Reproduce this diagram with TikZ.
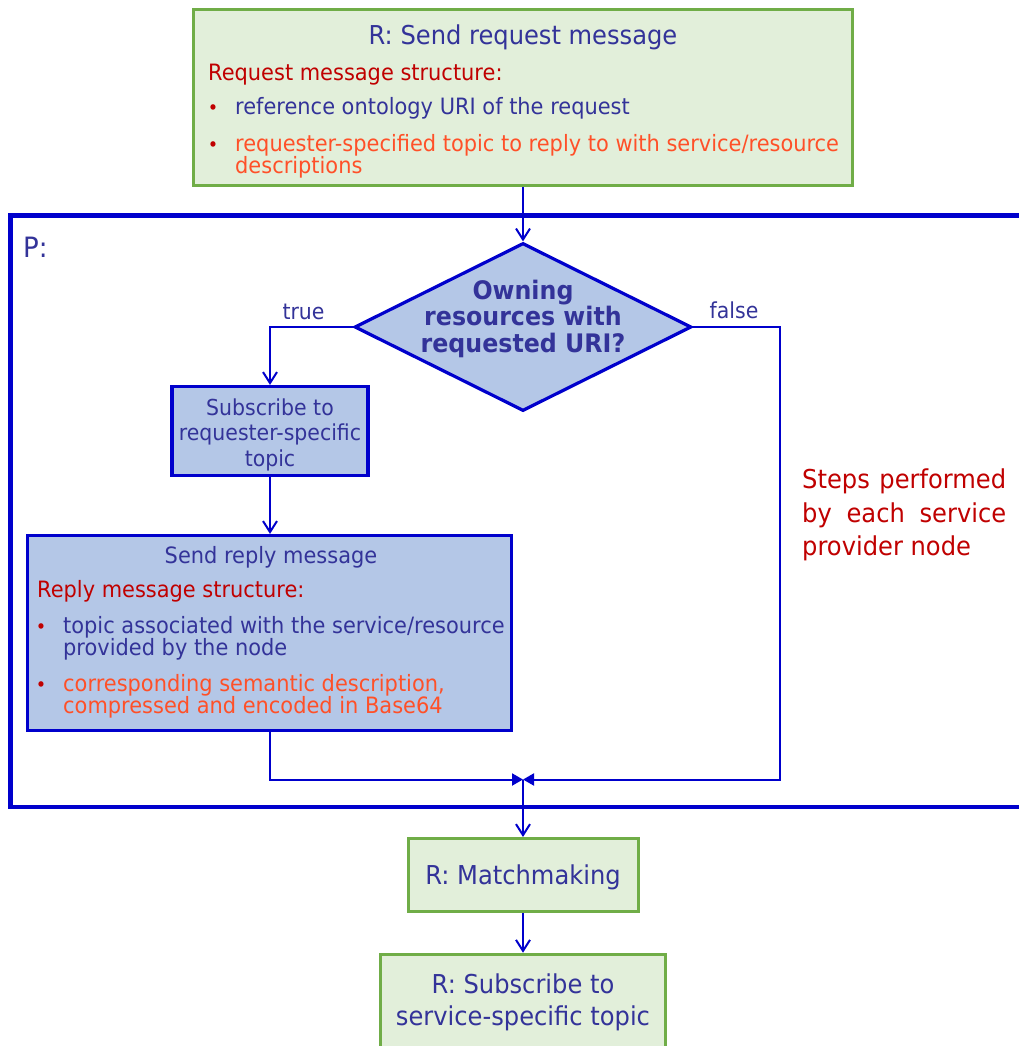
\documentclass[tikz,border=0pt]{standalone}
\usepackage{fontspec}
\setmainfont{DejaVu Sans}[FakeStretch=0.93]
\newfontfamily\boldface{DejaVu Sans Bold}[FakeStretch=0.93]
\usetikzlibrary{shapes.geometric,arrows.meta}

\definecolor{txtblue}{RGB}{51,51,153}
\definecolor{txtred}{RGB}{192,0,0}
\definecolor{txtorange}{RGB}{255,80,40}
\definecolor{lnblue}{RGB}{0,0,204}
\definecolor{grnfill}{RGB}{226,239,218}
\definecolor{grnline}{RGB}{112,173,71}
\definecolor{bluefill}{RGB}{180,199,231}

\tikzset{
  greenbox/.style={draw=grnline, fill=grnfill, line width=3pt, inner sep=0pt},
  bluebox/.style={draw=lnblue, fill=bluefill, line width=3.2pt, inner sep=0pt},
  framebox/.style={draw=lnblue, line width=4.5pt, inner sep=0pt},
  decision/.style={diamond, draw=lnblue, fill=bluefill, line width=3.2pt, inner sep=0pt},
  conn/.style={draw=lnblue, line width=2pt},
  varrow/.style={conn, -{Straight Barb[length=11pt,width=14pt]}},
  harrow/.style={conn, -{Triangle[length=11pt,width=12pt]}},
  txt/.style={inner sep=0pt, anchor=base, text=txtblue},
  big/.style={txt, font=\fontsize{26}{30}\selectfont},
  mid/.style={txt, font=\fontsize{22.5}{26}\selectfont},
  small/.style={txt, font=\fontsize{22}{25}\selectfont},
  bold/.style={txt, font=\boldface\fontsize{25.5}{28}\selectfont},
  lw/.style={anchor=base west},
  redt/.style={text=txtred},
  oranget/.style={text=txtorange},
  bul/.style={inner sep=0pt, anchor=base, text=txtred, font=\fontsize{19}{20}\selectfont},
}

\begin{document}
\begin{tikzpicture}[x=1pt,y=-1pt]
\useasboundingbox[fill=white] (0,0) rectangle (1019,1046);

% boxes
\node[greenbox, minimum width=659, minimum height=176] (req) at (523,97.5) {};
\node[framebox, minimum width=1030, minimum height=591.5] (pbox) at (525.5,511.25) {};
\node[decision, minimum width=337, minimum height=168] (dec) at (523,327) {};
\node[bluebox, minimum width=196, minimum height=89] (subr) at (270,431) {};
\node[bluebox, minimum width=484, minimum height=195] (reply) at (269.5,633) {};
\node[greenbox, minimum width=230, minimum height=73] (match) at (523,875) {};
\node[greenbox, minimum width=285, minimum height=115.5] (subs) at (523,1012) {};
\coordinate (merge) at (523,779.5);
\coordinate (fturn) at (780,779.5);

% request message
\node[big] (reqtitle) at (523,45) {R: Send request message};
\node[mid, lw, redt] (reqhead) at (208,81) {Request message structure:};
\node[bul] (reqb1) at (213,115) {•};
\node[mid, lw] (reqi1) at (235,115) {reference ontology URI of the request};
\node[bul] (reqb2) at (213,151) {•};
\node[mid, lw, oranget] (reqi2a) at (235,151) {requester-specified topic to reply to with service/resource};
\node[mid, lw, oranget] (reqi2b) at (235,173) {descriptions};

% provider part
\node[txt, lw, font=\fontsize{28}{30}\selectfont] (plabel) at (23,257) {P:};
\node[bold] (decl1) at (523,299) {Owning};
\node[bold] (decl2) at (523,325.5) {resources with};
\node[bold] (decl3) at (523,352) {requested URI?};
\node[small] (truel) at (303.5,319) {true};
\node[small] (falsel) at (734,318) {false};

\node[small] (subl1) at (270,415) {Subscribe to};
\node[small] (subl2) at (270,440.5) {requester-specific};
\node[small] (subl3) at (270,466) {topic};

\node[mid] (reptitle) at (271,563) {Send reply message};
\node[mid, lw, redt] (rephead) at (37,597) {Reply message structure:};
\node[bul] (repb1) at (41,633) {•};
\node[mid, lw] (repi1a) at (63,633) {topic associated with the service/resource};
\node[mid, lw] (repi1b) at (63,655) {provided by the node};
\node[bul] (repb2) at (41,691) {•};
\node[mid, lw, oranget] (repi2a) at (63,691) {corresponding semantic description,};
\node[mid, lw, oranget] (repi2b) at (63,713) {compressed and encoded in Base64};

\node[big, lw, redt] (note1) at (802,488) {\makebox[204pt][s]{Steps performed}};
\node[big, lw, redt] (note2) at (802,522) {\makebox[204pt][s]{by each service}};
\node[big, lw, redt] (note3) at (802,555.5) {provider node};

% requester steps after the replies
\node[big] (matchl) at (523,884) {R: Matchmaking};
\node[big] (subsl1) at (523,993) {R: Subscribe to};
\node[big] (subsl2) at (523,1025) {service-specific topic};

% connectors
\draw[varrow] (req.south) -- (dec.north);
\draw[varrow] (dec.west) -| (subr.north);
\draw[harrow] (dec.east) -| (fturn) -- (merge);
\draw[varrow] (subr.south) -- (subr.south |- reply.north);
\draw[harrow] (reply.south) |- (merge);
\draw[varrow] (merge) -- (match.north);
\draw[varrow] (match.south) -- (subs.north);
\end{tikzpicture}
\end{document}
